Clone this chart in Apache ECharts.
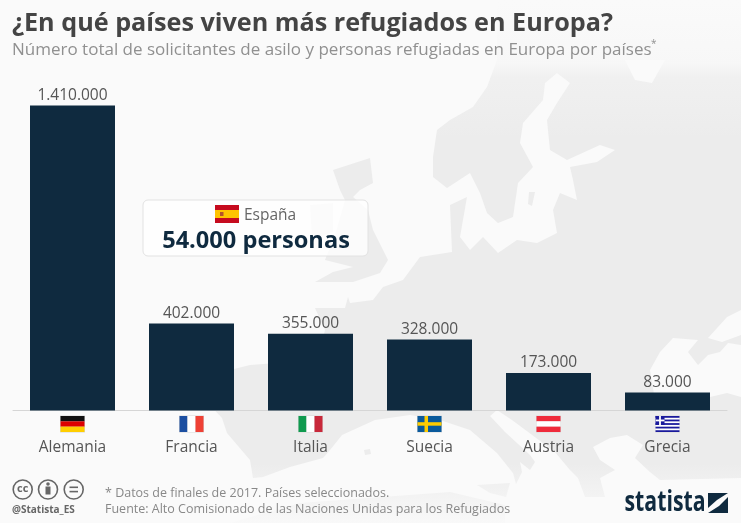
<!DOCTYPE html>
<html>
<head>
<meta charset="utf-8">
<style>
    html, body { margin: 0; padding: 0; background: #fafafa; }
    #myEchart { width: 741px; height: 523px; }
</style>
<script src="https://cdn.jsdelivr.net/npm/echarts@6/dist/echarts.min.js"></script>
</head>
<body>
<div id="myEchart"></div>
<script>
var categories = ['Alemania', 'Francia', 'Italia', 'Suecia', 'Austria', 'Grecia'];
var refugees = [1410000, 402000, 355000, 328000, 173000, 83000];
var flagCodes = ['de', 'fr', 'it', 'se', 'at', 'gr'];

var titleText = '¿En qué países viven más refugiados en Europa?';
var subtitleText = 'Número total de solicitantes de asilo y personas refugiadas en Europa por países';
var noteLines = ['* Datos de finales de 2017. Países seleccionados.', 'Fuente: Alto Comisionado de las Naciones Unidas para los Refugiados'];

var DARK = '#0f2a3f', LAND = '#ececec', SEA = '#fafafa', GREY = '#555555';
var FONT = '"Open Sans", sans-serif';

function formatNumber(n) {
    return String(n).replace(/\B(?=(\d{3})+$)/g, '.');
}

// el mapa de fondo, solo decoracion
function poly(points, fill) {
    return {type: 'polygon', silent: true, z: 0, shape: {points: points}, style: {fill: fill}};
}
function mapShapes() {
    var mainland = [[497, 60], [487, 87], [473, 107], [450, 120], [437, 130], [433, 157], [433, 177], [447, 188],
        [470, 173], [480, 193], [487, 213], [498, 223], [513, 217], [518, 183], [533, 167], [520, 143], [523, 123],
        [543, 100], [545, 83], [557, 73], [570, 83], [557, 103], [547, 120], [550, 150], [567, 160], [600, 145],
        [615, 150], [597, 162], [570, 167], [573, 180], [577, 200], [560, 193], [553, 210], [557, 233], [537, 243],
        [517, 240], [498, 253], [483, 237], [470, 250], [460, 237], [467, 197], [450, 205], [452, 252], [420, 257],
        [403, 280], [383, 287], [373, 300], [350, 303], [348, 297], [345, 308], [315, 308], [325, 330], [318, 360], [290, 362],
        [250, 365], [210, 375], [205, 400], [222, 418], [227, 433], [250, 460], [253, 478], [263, 477], [290, 467],
        [323, 458], [330, 450], [342, 435], [375, 420], [410, 415], [440, 420], [470, 430], [497, 453], [513, 473],
        [516, 484], [522, 472], [520, 462], [530, 470], [535, 462], [530, 455], [505, 432], [490, 416], [497, 410],
        [512, 420], [555, 452], [570, 470], [578, 478], [585, 497], [605, 497], [600, 478], [615, 470], [600, 460],
        [593, 447], [610, 438], [627, 435], [643, 445], [635, 458], [650, 472], [660, 480], [741, 478], [741, 0], [497, 0]];
    var britain = [[370, 158], [333, 170], [340, 190], [345, 200], [335, 235], [325, 260], [353, 267], [333, 272],
        [315, 282], [353, 282], [380, 273], [388, 260], [373, 230], [368, 210], [353, 197], [360, 190], [373, 183]];
    var ireland = [[310, 205], [333, 203], [333, 232], [312, 240]];
    var blackSea = [[650, 370], [660, 352], [673, 338], [698, 340], [688, 352], [698, 365], [708, 355], [720, 352],
        [728, 343], [741, 345], [741, 397], [727, 393], [710, 397], [655, 400]];
    var azov = [[708, 338], [727, 317], [741, 310], [741, 335], [722, 342]];
    var whiteSea = [[625, 60], [665, 60], [652, 83], [635, 80]];
    var shapes = [poly(mainland, LAND), poly(britain, LAND), poly(ireland, LAND), poly(blackSea, SEA), poly(azov, SEA), poly(whiteSea, SEA)];
    // islas
    shapes.push(poly([[477, 485], [510, 483], [506, 497], [490, 493]], LAND));
    shapes.push(poly([[364, 450], [370, 449], [371, 454], [365, 455]], LAND));
    shapes.push(poly([[529, 192], [535, 192], [532, 206], [528, 204]], LAND));
    shapes.push(poly([[230, 523], [300, 503], [450, 492], [505, 505], [505, 523]], LAND));
    // degradados arriba y abajo
    shapes.push({type: 'rect', silent: true, z: 1, shape: {x: 0, y: 0, width: 741, height: 140}, style: {
        fill: new echarts.graphic.LinearGradient(0, 0, 0, 1, [{offset: 0, color: 'rgba(250,250,250,1)'}, {offset: 0.45, color: 'rgba(250,250,250,0.8)'}, {offset: 0.55, color: 'rgba(250,250,250,0.3)'}, {offset: 1, color: 'rgba(250,250,250,0)'}])
    }});
    shapes.push({type: 'rect', silent: true, z: 1, shape: {x: 0, y: 463, width: 741, height: 60}, style: {
        fill: new echarts.graphic.LinearGradient(0, 0, 0, 1, [{offset: 0, color: 'rgba(250,250,250,0)'}, {offset: 1, color: 'rgba(250,250,250,0.9)'}])
    }});
    return shapes;
}

function bar(x, y, w, h, fill) {
    return {type: 'rect', silent: true, z: 5, shape: {x: x, y: y, width: w, height: h}, style: {fill: fill}};
}
function text(x, y, str, size, color, weight, align, family) {
    return {type: 'text', z: 5, x: x, y: y, style: {
        text: str, fontSize: size, fill: color, fontWeight: weight || 'normal', align: align || 'left',
        verticalAlign: 'middle', fontFamily: family || FONT
    }};
}

// banderas: 24x16, centradas en la categoria
function flagShapes(code, cx, y) {
    var x = cx - 12, w = 24, h = 16, i;
    var out = [bar(x - 0.5, y - 0.5, w + 1, h + 1, '#d8d8d8')];
    if (code === 'de') {
        out.push(bar(x, y, w, h / 3, '#111111'), bar(x, y + h / 3, w, h / 3, '#dd0000'), bar(x, y + 2 * h / 3, w, h / 3, '#ffce00'));
    } else if (code === 'fr') {
        out.push(bar(x, y, w / 3, h, '#1c4fa1'), bar(x + w / 3, y, w / 3, h, '#ffffff'), bar(x + 2 * w / 3, y, w / 3, h, '#ef4135'));
    } else if (code === 'it') {
        out.push(bar(x, y, w / 3, h, '#109a4f'), bar(x + w / 3, y, w / 3, h, '#ffffff'), bar(x + 2 * w / 3, y, w / 3, h, '#c8283a'));
    } else if (code === 'se') {
        out.push(bar(x, y, w, h, '#0a5a9c'), bar(x + 7, y, 3.5, h, '#fecb00'), bar(x, y + 6.2, w, 3.5, '#fecb00'));
    } else if (code === 'at') {
        out.push(bar(x, y, w, h / 3, '#ef2b3b'), bar(x, y + h / 3, w, h / 3, '#ffffff'), bar(x, y + 2 * h / 3, w, h / 3, '#ef2b3b'));
    } else if (code === 'gr') {
        out.push(bar(x, y, w, h, '#ffffff'));
        for (i = 0; i < 5; i++) {
            out.push(bar(x, y + i * 3.56, w, 1.78, '#1a1a9c'));
        }
        out.push(bar(x, y, 9, 8.9, '#1a1a9c'), bar(x + 3.6, y, 1.8, 8.9, '#ffffff'), bar(x, y + 3.55, 9, 1.8, '#ffffff'));
    }
    return out;
}

function spainBox() {
    return [
        {type: 'rect', silent: true, z: 4, shape: {x: 143, y: 200, width: 225, height: 56, r: 5},
            style: {fill: 'rgba(255,255,255,0.8)', stroke: '#e2e2e2', lineWidth: 1}},
        bar(215, 205, 24, 5, '#c60b1e'), bar(215, 210, 24, 8, '#ffc400'), bar(215, 218, 24, 5, '#c60b1e'),
        bar(220, 212, 3.5, 4, '#b5532a'),
        text(244, 215.5, 'España', 15.5, '#666666'),
        text(256, 241, '54.000 personas', 23.6, DARK, 'bold', 'center')
    ];
}

function ccIcons() {
    var stroke = {fill: 'none', stroke: '#666666', lineWidth: 1.6};
    var out = [22.7, 48, 73.7].map(function (cx) {
        return {type: 'circle', silent: true, z: 5, shape: {cx: cx, cy: 489.5, r: 9.5}, style: stroke};
    });
    out.push(text(22.7, 489, 'cc', 11, '#666666', 'bold', 'center'));
    out.push({type: 'circle', silent: true, z: 5, shape: {cx: 48, cy: 484, r: 1.8}, style: {fill: '#666666'}});
    out.push(bar(45.5, 486.5, 5, 8, '#666666'));
    out.push(bar(69.5, 486.5, 8.5, 1.6, '#666666'), bar(69.5, 490.8, 8.5, 1.6, '#666666'));
    out.push(text(12, 510, '@Statista_ES', 10, '#666666', 'bold'));
    return out;
}

function logo() {
    var word = text(0, 0, 'statista', 28, DARK, 'bold');
    word.x = 624.5;
    word.y = 503;
    word.scaleX = 0.76;
    return [
        word,
        {type: 'polygon', silent: true, z: 5, shape: {points: [[708, 493], [728, 493], [717, 500], [708, 508]]}, style: {fill: DARK}},
        {type: 'polygon', silent: true, z: 5, shape: {points: [[728, 497], [728, 513], [708, 513], [719, 506]]}, style: {fill: DARK}}
    ];
}

var chartPaper = echarts.init(document.getElementById('myEchart'), null, {renderer: 'canvas'});
var option = {
    backgroundColor: SEA,
    animation: false,
    title: [
        {text: titleText, left: 7, top: 6, textStyle: {fontFamily: FONT, fontSize: 25.2, fontWeight: 'bold', color: '#444444'}},
        {text: subtitleText, left: 7, top: 37, textStyle: {fontFamily: FONT, fontSize: 17, fontWeight: 'normal', color: '#909090'}}
    ],
    grid: {left: 13, right: 14, top: 105.5, bottom: 112.5},
    xAxis: {
        type: 'category',
        data: categories,
        axisTick: {show: false},
        axisLine: {lineStyle: {color: '#d6d6d6', width: 1}},
        axisLabel: {margin: 29, fontFamily: FONT, fontSize: 15.5, color: GREY}
    },
    yAxis: {type: 'value', min: 0, max: 1410000, show: false},
    series: [{
        type: 'bar',
        data: refugees,
        barWidth: 85,
        itemStyle: {color: DARK},
        label: {
            show: true,
            position: 'top',
            distance: 2,
            fontFamily: FONT,
            fontSize: 15.5,
            color: GREY,
            formatter: function (p) { return formatNumber(p.value); }
        }
    }]
};
chartPaper.setOption(option);

// lo demas va encima, con la posicion de cada categoria sacada del eje
var extras = mapShapes().concat(spainBox(), ccIcons(), logo());
categories.forEach(function (cat, i) {
    var cx = chartPaper.convertToPixel({xAxisIndex: 0}, cat);
    extras = extras.concat(flagShapes(flagCodes[i], cx, 416));
});
extras.push(text(105, 493, noteLines[0], 12.5, '#888888'));
extras.push(text(105, 509, noteLines[1], 12.5, '#888888'));
extras.push(text(651, 44, '*', 10, '#909090'));
chartPaper.setOption({graphic: {elements: extras}});

window.onresize = function () {
    chartPaper.resize();
};
</script>
</body>
</html>
